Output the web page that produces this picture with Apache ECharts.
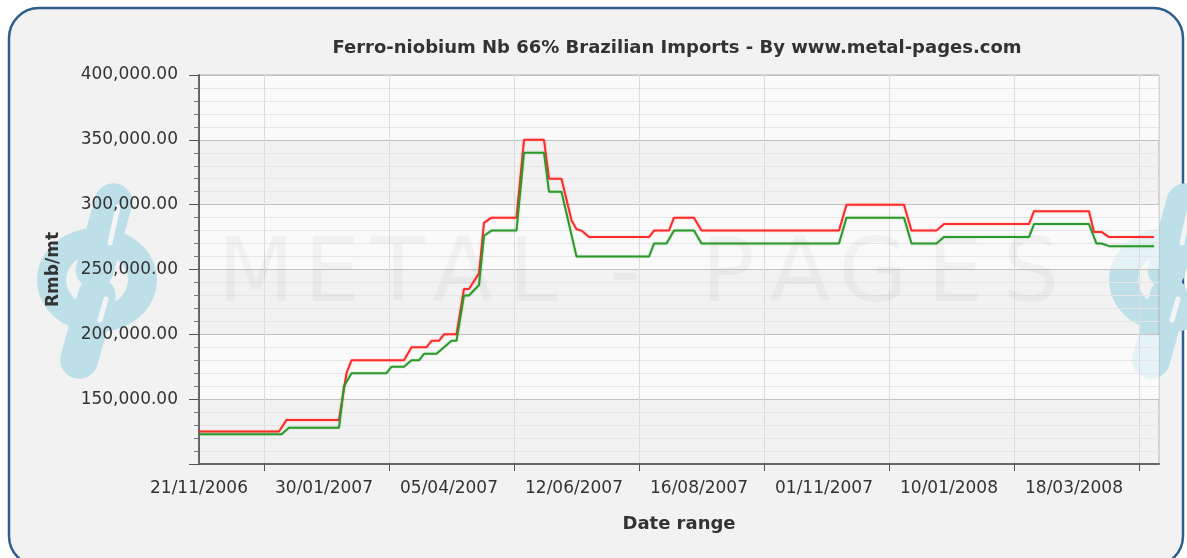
<!DOCTYPE html>
<html>
<head>
<meta charset="utf-8">
<script src="https://cdn.jsdelivr.net/npm/echarts@6/dist/echarts.min.js"></script>
<style>
html,body{margin:0;padding:0;background:#fff;}
#chart{width:1187px;height:558px;}
</style>
</head>
<body>
<div id="chart"></div>
<script>
// ---- data (x = trading-day index from 21/11/2006, y = Rmb/mt) ----
const tickLabels = ['21/11/2006','30/01/2007','05/04/2007','12/06/2007','16/08/2007','01/11/2007','10/01/2008','18/03/2008'];
const labelStep = 50;      // trading days between date labels
const tickOffset = 26;     // tick marks sit between labels
const categoryCount = 385;

const redIdx = [0,32,35,56,59,61,82,85,91,93,96,98,103,106,108,112,114,117,127,130,138,140,145,149,151,153,156,180,182,188,190,198,201,256,259,282,285,295,298,332,334,356,358,361,364,382];
const redVal = [125000,125000,134000,134000,170000,180000,180000,190000,190000,195000,195000,200000,200000,235000,235000,247000,286000,290000,290000,350000,350000,320000,320000,288000,281000,280000,275000,275000,280000,280000,290000,290000,280000,280000,300000,300000,280000,280000,285000,285000,295000,295000,279000,279000,275000,275000];

const greenIdx = [0,33,36,56,58,61,75,77,82,85,88,90,95,98,101,103,106,108,112,114,117,127,130,138,140,145,151,180,182,187,190,198,201,256,259,282,285,295,298,332,334,356,359,361,364,382];
const greenVal = [123000,123000,128000,128000,160000,170000,170000,175000,175000,180000,180000,185000,185000,190000,195000,195000,230000,230000,238000,276000,280000,280000,340000,340000,310000,310000,260000,260000,270000,270000,280000,280000,270000,270000,290000,290000,270000,270000,275000,275000,285000,285000,270000,270000,268000,268000];

const yMin = 100000, yMax = 400000, yStep = 50000;

// ---- helpers ----
const FONT = "'DejaVu Sans', Verdana, sans-serif";
function fmt(v){ return String(Math.round(v)).replace(/\B(?=(\d{3})+(?!\d))/g, ',') + '.00'; }

const categories = [];
for (let i = 0; i < categoryCount; i++) {
  const k = i / labelStep;
  categories.push(i % labelStep === 0 && k < tickLabels.length ? tickLabels[k] : 'd' + i);
}
const isLabel = (i) => i % labelStep === 0 && i / labelStep < tickLabels.length;
const isTick = (i) => i % labelStep === tickOffset;

const redData = redIdx.map((x, i) => [x, redVal[i]]);
const greenData = greenIdx.map((x, i) => [x, greenVal[i]]);

// ---- decoration (watermark + logos + frame) ----
const wmLetters = ['M','E','T','A','L','-','P','A','G','E','S'];
const wmCenters = [256,332,398,463,533,625,728,800,873,955,1031];
const watermark = wmLetters.map((ch, i) => ({
  type: 'text', x: wmCenters[i], y: 278, z: 1, silent: true,
  style: { text: ch, font: "89px " + FONT, fill: 'rgba(0,0,0,0.035)', align: 'center', verticalAlign: 'middle' }
}));

const LOGO = '#bde0e8';
function logo(cx, cy) {
  return {
    type: 'group', x: cx, y: cy, z: -50, silent: true,
    children: [
      { type: 'ring', z: -50, scaleY: 0.87, shape: { cx: 0, cy: 0, r: 60, r0: 31 }, style: { fill: LOGO } },
      { type: 'rect', z: -49, x: 7, y: -44, rotation: -0.27, shape: { x: -19, y: -54, width: 38, height: 108, r: 19 }, style: { fill: LOGO } },
      { type: 'rect', z: -49, x: -9, y: 48, rotation: -0.27, shape: { x: -19, y: -52, width: 38, height: 104, r: 19 }, style: { fill: LOGO } },
      { type: 'line', z: -48, shape: { x1: 21, y1: -73, x2: 13, y2: -37 }, style: { stroke: '#f4f4f4', lineWidth: 5, lineCap: 'round' } },
      { type: 'line', z: -48, shape: { x1: 9, y1: 19, x2: 3, y2: 40 }, style: { stroke: '#f4f4f4', lineWidth: 5, lineCap: 'round' } }
    ]
  };
}

const chart = echarts.init(document.getElementById('chart'), null, { renderer: 'canvas' });
chart.setOption({
  animation: false,
  backgroundColor: '#ffffff',
  title: {
    text: 'Ferro-niobium Nb 66% Brazilian Imports - By www.metal-pages.com',
    left: 677, top: 39, textAlign: 'center', padding: 0,
    textStyle: { fontFamily: FONT, fontSize: 18, fontWeight: 'bold', color: '#333' }
  },
  graphic: {
    elements: [
      { type: 'rect', z: -100, silent: true, shape: { x: 9, y: 8, width: 1174, height: 558, r: 30 },
        style: { fill: '#f2f2f2', stroke: '#2e5d8e', lineWidth: 2.5 } },
      logo(97, 280),
      logo(1169, 280)
    ].concat(watermark)
  },
  grid: {
    left: 199, right: 28, top: 75, bottom: 94,
    show: true, borderColor: '#b5b5b5', borderWidth: 1, backgroundColor: 'transparent'
  },
  xAxis: {
    type: 'category', data: categories, boundaryGap: false,
    name: 'Date range', nameLocation: 'middle', nameGap: 51,
    nameTextStyle: { fontFamily: FONT, fontSize: 18, fontWeight: 'bold', color: '#333' },
    axisLine: { show: true, lineStyle: { color: '#666', width: 2 } },
    axisTick: { show: true, interval: isTick, length: 7, lineStyle: { color: '#555' } },
    axisLabel: { interval: isLabel, margin: 16, fontFamily: FONT, fontSize: 17, color: '#333',
      formatter: (v) => v },
    splitLine: { show: true, interval: isTick, lineStyle: { color: '#dcdcdc' } }
  },
  yAxis: {
    type: 'value', min: yMin, max: yMax, interval: yStep,
    name: 'Rmb/mt', nameLocation: 'middle', nameGap: 137,
    nameTextStyle: { fontFamily: FONT, fontSize: 17, fontWeight: 'bold', color: '#333' },
    axisLine: { show: true, lineStyle: { color: '#666', width: 2 } },
    axisTick: { show: true, length: 10, lineStyle: { color: '#555' } },
    minorTick: { show: true, splitNumber: 5, length: 5, lineStyle: { color: '#777' } },
    axisLabel: { showMinLabel: false, margin: 21, fontFamily: FONT, fontSize: 17, color: '#333', formatter: fmt },
    splitLine: { show: true, lineStyle: { color: '#c2c2c2' } },
    minorSplitLine: { show: true, lineStyle: { color: '#e6e6e6' } },
    splitArea: { show: true, areaStyle: { color: ['rgba(255,255,255,0)', 'rgba(255,255,255,0.6)'] } }
  },
  series: [
    { name: 'Red', type: 'line', data: redData, symbol: 'none', z: 3,
      lineStyle: { color: '#ff2a2a', width: 2, shadowColor: 'rgba(255,0,0,0.25)', shadowBlur: 2 } },
    { name: 'Green', type: 'line', data: greenData, symbol: 'none', z: 3,
      lineStyle: { color: '#2a9a2a', width: 2, shadowColor: 'rgba(0,120,0,0.25)', shadowBlur: 2 } }
  ]
});
</script>
</body>
</html>
